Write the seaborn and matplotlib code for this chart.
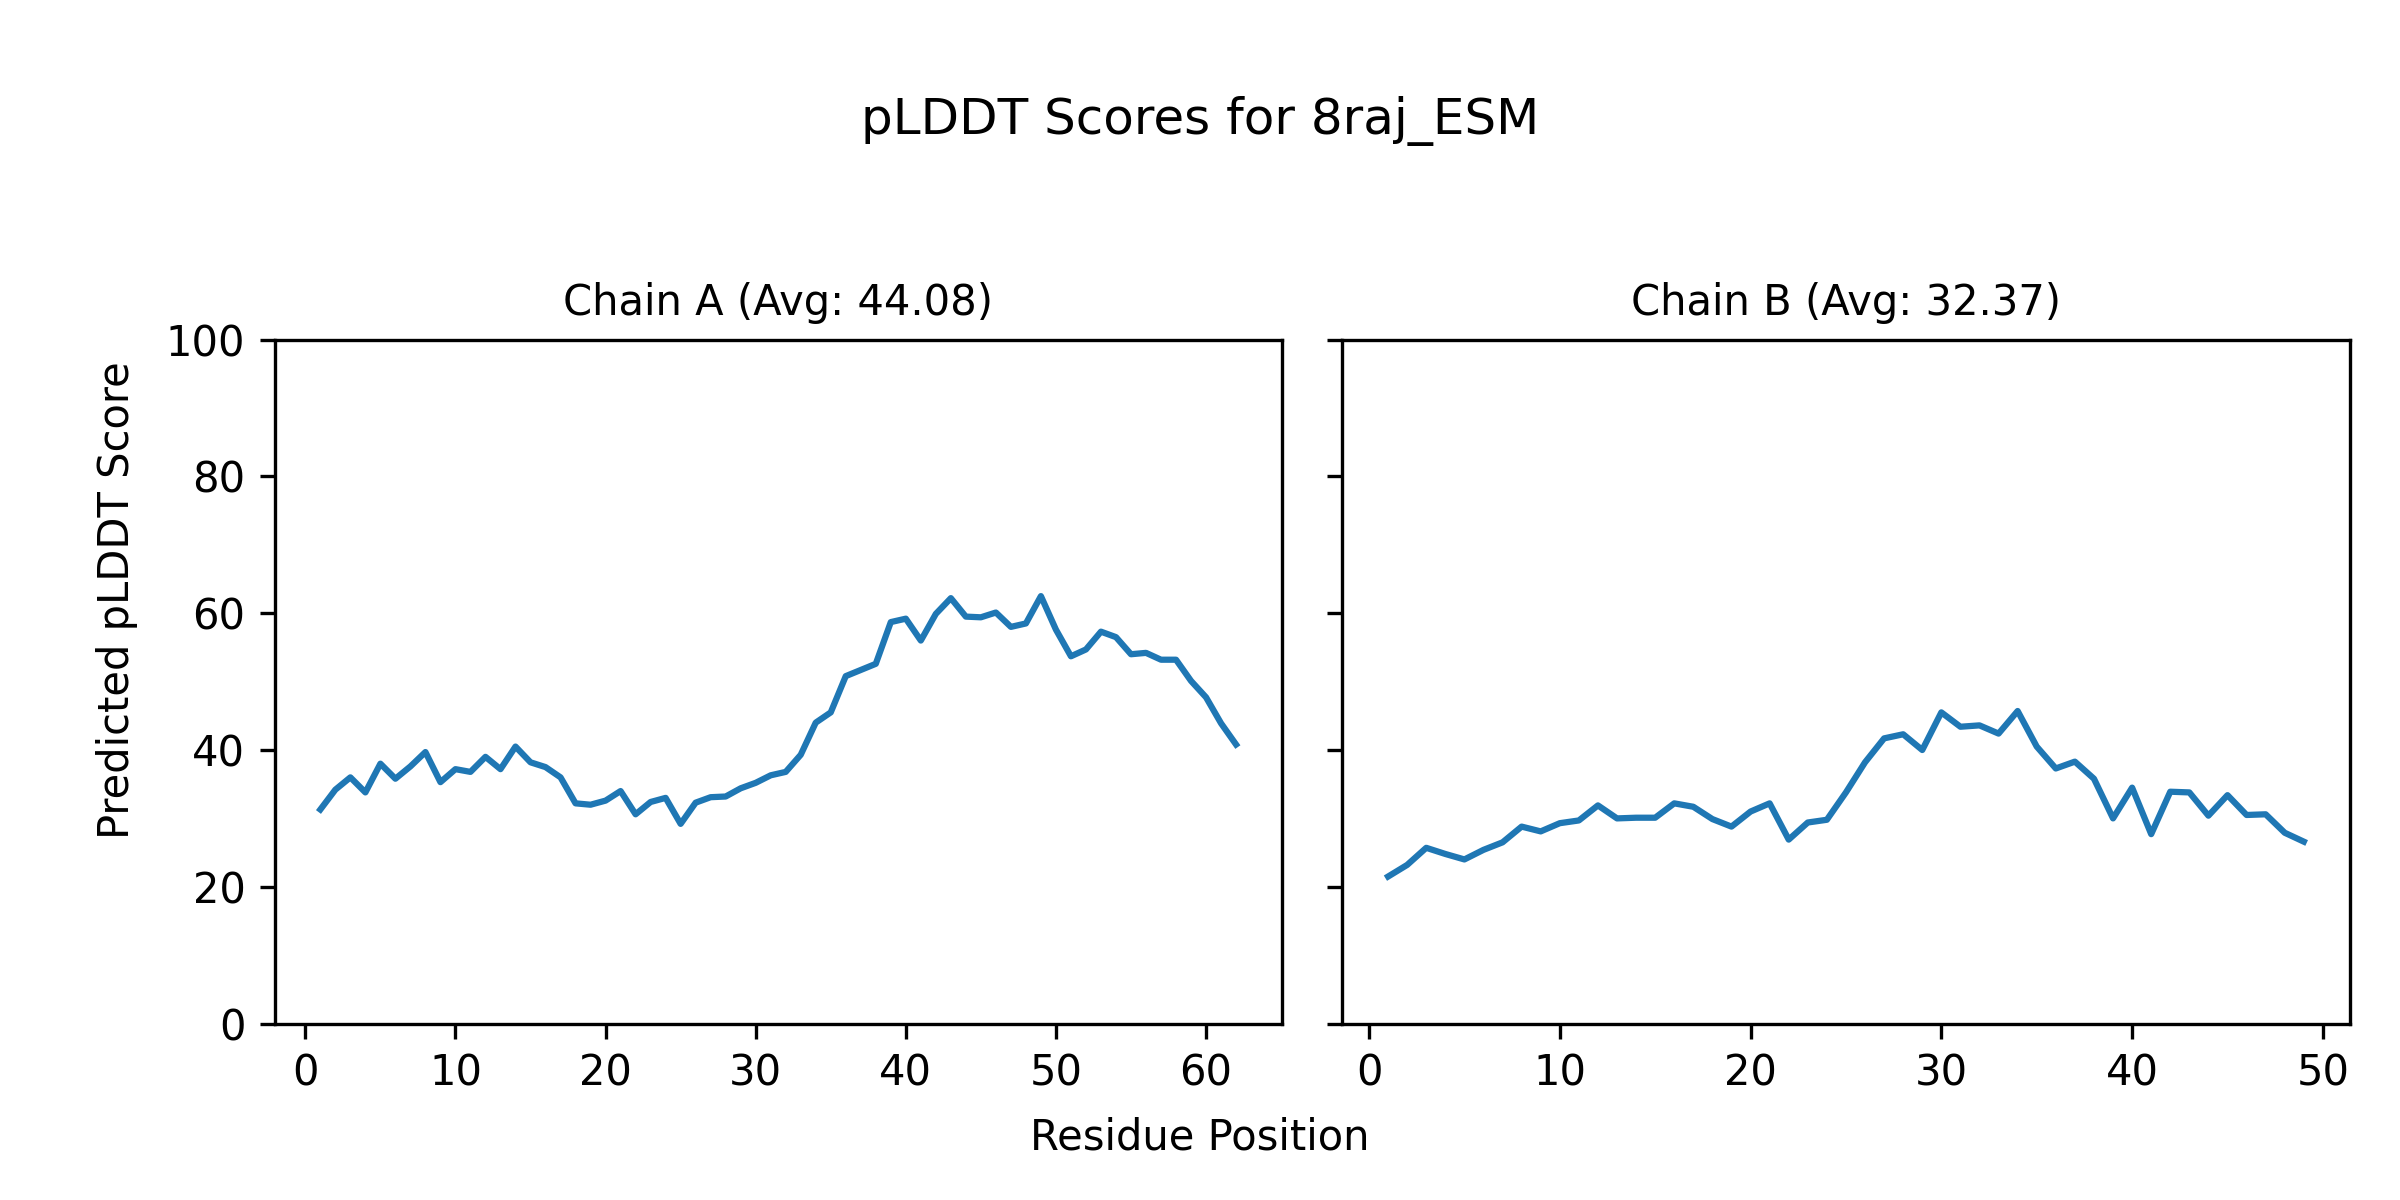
import numpy as np
import pandas as pd
import matplotlib
matplotlib.use("Agg")
import matplotlib.pyplot as plt
import seaborn as sns

# pLDDT per residue
chain_a_scores = [31.3, 34.2, 36.0, 33.8, 38.0, 35.8, 37.6, 39.7, 35.3, 37.2,
                  36.8, 39.0, 37.2, 40.5, 38.2, 37.5, 36.0, 32.2, 32.0, 32.6,
                  34.0, 30.6, 32.4, 33.0, 29.2, 32.3, 33.1, 33.2, 34.4, 35.2,
                  36.3, 36.8, 39.3, 44.0, 45.5, 50.8, 51.7, 52.6, 58.7, 59.2,
                  56.0, 59.9, 62.2, 59.5, 59.4, 60.1, 58.0, 58.5, 62.5, 57.6,
                  53.7, 54.7, 57.3, 56.5, 54.0, 54.2, 53.2, 53.2, 50.1, 47.7,
                  43.9, 40.8]
chain_b_scores = [21.5, 23.2, 25.7, 24.8, 24.0, 25.4, 26.5, 28.8, 28.1, 29.3,
                  29.7, 31.9, 30.0, 30.1, 30.1, 32.2, 31.7, 29.9, 28.8, 31.0,
                  32.2, 26.9, 29.4, 29.8, 33.8, 38.2, 41.7, 42.3, 40.0, 45.5,
                  43.4, 43.6, 42.4, 45.7, 40.5, 37.3, 38.3, 35.8, 30.0, 34.5,
                  27.7, 33.9, 33.8, 30.4, 33.4, 30.5, 30.6, 27.9, 26.6]
chain_names = ["A", "B"]
chain_avgs = [44.08, 32.37]

chains = [chain_a_scores, chain_b_scores]

fig, axes = plt.subplots(1, 2, figsize=(8, 4), dpi=300, sharey=True)

for ax, name, avg, scores in zip(axes, chain_names, chain_avgs, chains):
    df = pd.DataFrame({"Residue": np.arange(1, len(scores) + 1), "pLDDT": scores})
    sns.lineplot(data=df, x="Residue", y="pLDDT", ax=ax, color="#1f77b4")
    ax.set_title(f"Chain {name} (Avg: {avg:.2f})", fontsize=10)
    ax.set_ylim(0, 100)
    ax.set_xlabel("")
    ax.set_ylabel("")

fig.suptitle("pLDDT Scores for 8raj_ESM", fontsize=12, y=0.92)
fig.supxlabel("Residue Position", fontsize=10, y=0.035)
fig.supylabel("Predicted pLDDT Score", fontsize=10, x=0.04)

plt.subplots_adjust(left=0.1144, right=0.979, bottom=0.147, top=0.717, wspace=0.06)
plt.savefig("out.png")
